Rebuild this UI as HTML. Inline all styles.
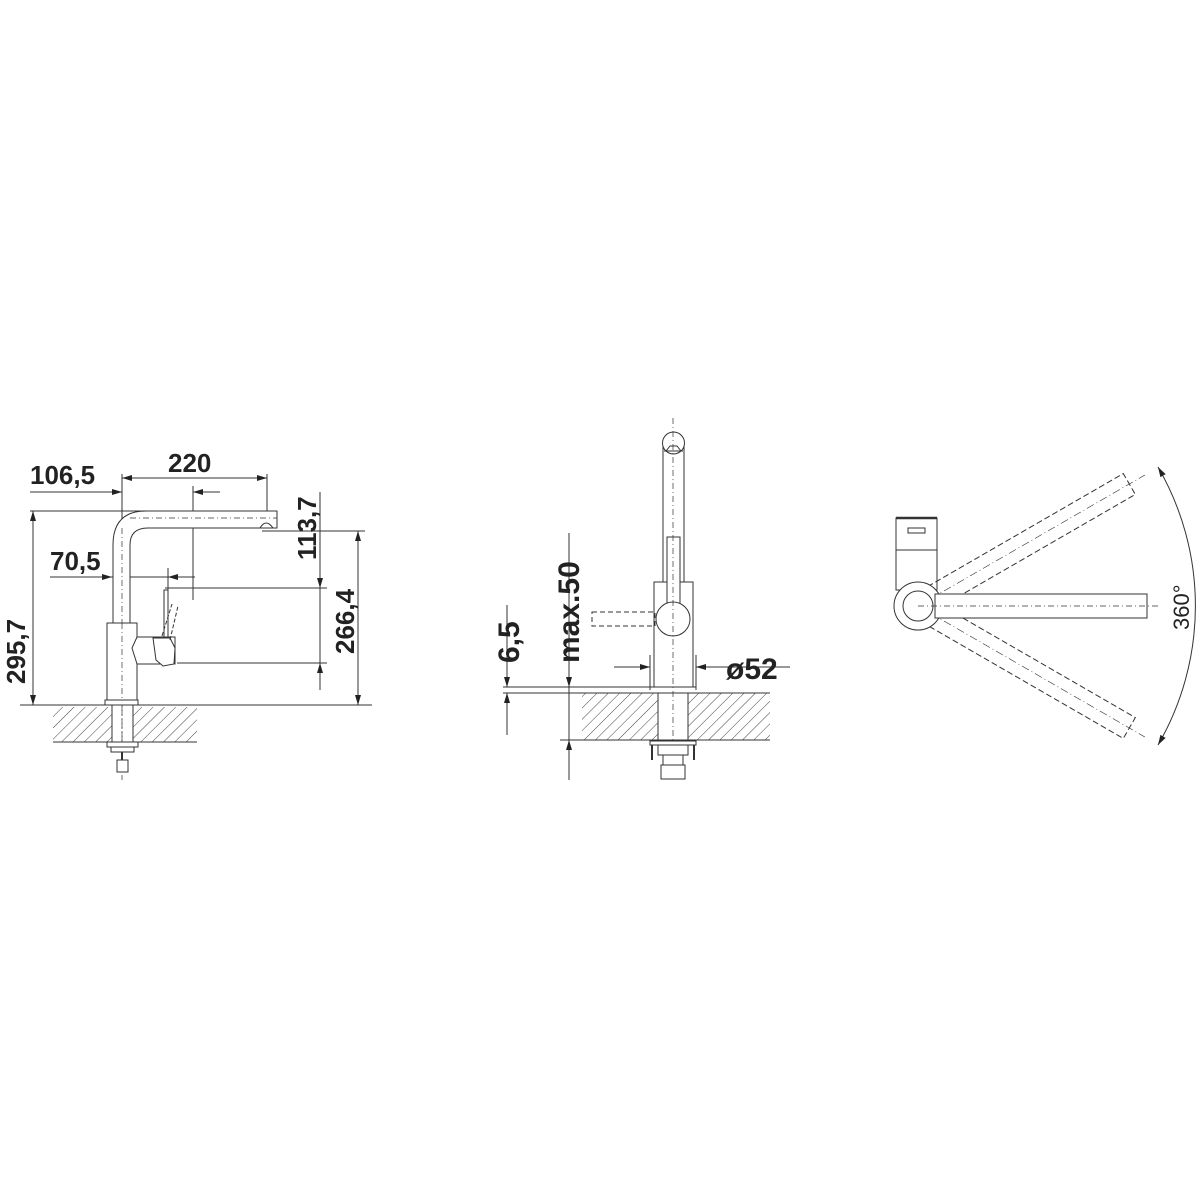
<!DOCTYPE html>
<html><head><meta charset="utf-8"><style>html,body{margin:0;padding:0;background:#fff}svg{display:block}</style></head>
<body>
<svg width="1200" height="1200" viewBox="0 0 1200 1200" xmlns="http://www.w3.org/2000/svg" font-family="Liberation Sans, sans-serif" font-weight="bold" fill="none" stroke="#333" stroke-width="1">
<defs>
<pattern id="h" patternUnits="userSpaceOnUse" width="8" height="8" patternTransform="rotate(45)">
<line x1="0" y1="0" x2="0" y2="8" stroke="#444" stroke-width="1"/>
</pattern>
<marker id="a" viewBox="0 0 10 6" refX="10" refY="3" markerWidth="10" markerHeight="6" orient="auto-start-reverse" markerUnits="userSpaceOnUse">
<path d="M0,0 L10,3 L0,6 z" fill="#222" stroke="none"/>
</marker>
</defs>

<!-- LEFT VIEW -->
<g>
<rect x="53" y="707" width="144" height="35" fill="url(#h)" stroke="none"/>
<line x1="53" y1="742" x2="197" y2="742"/>
<rect x="112" y="705" width="21" height="37" fill="#fff"/>
<line x1="20" y1="705" x2="372" y2="705"/>
<line x1="122" y1="478" x2="267" y2="478" marker-start="url(#a)" marker-end="url(#a)"/>
<line x1="122" y1="474" x2="122" y2="700"/>
<line x1="267" y1="474" x2="267" y2="516"/>
<line x1="30" y1="492" x2="122" y2="492" marker-end="url(#a)"/>
<line x1="220" y1="492" x2="193" y2="492" marker-end="url(#a)"/>
<line x1="193" y1="486" x2="193" y2="600"/>
<line x1="30" y1="511" x2="148" y2="511"/>
<line x1="33" y1="511" x2="33" y2="705" marker-start="url(#a)" marker-end="url(#a)"/>
<line x1="50" y1="577" x2="112" y2="577" marker-end="url(#a)"/>
<line x1="195" y1="577" x2="168" y2="577" marker-end="url(#a)"/>
<line x1="112" y1="577" x2="168" y2="577"/>
<line x1="168" y1="568" x2="168" y2="594"/>
<line x1="320" y1="492" x2="320" y2="588" marker-end="url(#a)"/>
<line x1="320" y1="690" x2="320" y2="663" marker-end="url(#a)"/>
<line x1="320" y1="588" x2="320" y2="663"/>
<line x1="165" y1="588" x2="327" y2="588"/>
<line x1="177" y1="663" x2="327" y2="663"/>
<line x1="262" y1="531" x2="365" y2="531"/>
<line x1="358" y1="531" x2="358" y2="705" marker-start="url(#a)" marker-end="url(#a)"/>
<path d="M113,623 L113,545 Q113,511 146,511 L277,511 L277,528 L148,528 Q130,528 130,545 L130,623" fill="#fff"/>
<line x1="130" y1="518" x2="277" y2="518" stroke-dasharray="6,3,1,3" stroke-width="0.7"/>
<line x1="122" y1="528" x2="122" y2="780" stroke-dasharray="6,3,1,3" stroke-width="0.7"/>
<path d="M260,528 Q266,518 273,528 z" fill="#fff"/>
<rect x="107" y="623" width="30" height="77" fill="#fff"/>
<line x1="122" y1="623" x2="122" y2="700" stroke-dasharray="6,3,1,3" stroke-width="0.7"/>
<rect x="105" y="700" width="33" height="5" fill="#fff"/>
<path d="M137,637 L132,648 L137,664 L175,664 L175,637 z" fill="#fff"/>
<rect x="164" y="590" width="4" height="47" fill="#fff"/>
<path d="M153,638 L170,638 L175,648 L174,664 L163,666 L156,660 z" fill="#fff"/>
<path d="M162,636 L172,604 M170,640 L178,606" stroke-dasharray="4,2"/>
<line x1="122" y1="705" x2="122" y2="742" stroke-dasharray="6,3,1,3" stroke-width="0.7"/>
<rect x="107" y="742" width="31" height="5" fill="#fff"/>
<rect x="111" y="747" width="23" height="5" fill="#fff"/>
<line x1="122" y1="752" x2="122" y2="760" stroke-width="2"/>
<rect x="117" y="760" width="11" height="12" fill="#fff"/>
</g>
<g fill="#222" stroke="none" font-size="26">
<text x="30" y="484">106,5</text>
<text x="168" y="472">220</text>
<text x="50" y="570">70,5</text>
<text transform="translate(316,560) rotate(-90)">113,7</text>
<text transform="translate(354,654) rotate(-90)">266,4</text>
<text transform="translate(25,684) rotate(-90)">295,7</text>
</g>

<!-- MIDDLE VIEW -->
<g>
<rect x="582" y="693" width="188" height="47" fill="url(#h)" stroke="none"/>
<rect x="658" y="693" width="30" height="47" fill="#fff"/>
<line x1="503" y1="687" x2="696" y2="687"/>
<line x1="503" y1="693" x2="770" y2="693"/>
<line x1="560" y1="740" x2="770" y2="740"/>
<line x1="507" y1="605" x2="507" y2="687" marker-end="url(#a)"/>
<line x1="507" y1="735" x2="507" y2="693" marker-end="url(#a)"/>
<line x1="569" y1="533" x2="569" y2="687" marker-end="url(#a)"/>
<line x1="569" y1="780" x2="569" y2="740" marker-end="url(#a)"/>
<line x1="569" y1="687" x2="569" y2="740"/>
<line x1="614" y1="667" x2="650" y2="667" marker-end="url(#a)"/>
<line x1="790" y1="667" x2="696" y2="667" marker-end="url(#a)"/>
<line x1="650" y1="655" x2="650" y2="690"/>
<line x1="696" y1="655" x2="696" y2="690"/>
<rect x="654" y="582" width="39" height="105" fill="#fff"/>
<rect x="663" y="445" width="21" height="137" fill="#fff"/>
<circle cx="673.5" cy="443" r="11" fill="#fff"/>
<path d="M664,451 L683,451 M666,451 L670,446 L677,446 L681,451"/>
<rect x="667" y="537" width="13" height="70" fill="#fff"/>
<rect x="592" y="612" width="63" height="14" stroke-dasharray="5,3"/>
<circle cx="673" cy="619" r="17" fill="#fff"/>
<rect x="658" y="693" width="30" height="47" fill="#fff"/>
<line x1="673" y1="418" x2="673" y2="780" stroke-dasharray="6,3,1,3" stroke-width="0.7"/>
<rect x="650" y="741" width="46" height="4" fill="#fff"/>
<line x1="652" y1="745" x2="652" y2="760" stroke-width="2"/>
<line x1="694" y1="745" x2="694" y2="760" stroke-width="2"/>
<rect x="658" y="745" width="30" height="10" fill="#fff"/>
<rect x="663" y="755" width="20" height="10" fill="#fff"/>
<rect x="661" y="765" width="24" height="14" fill="#fff"/>
</g>
<g fill="#222" stroke="none">
<text x="726" y="679" font-size="30">ø52</text>
<text transform="translate(519,663) rotate(-90)" font-size="30">6,5</text>
<text transform="translate(579,663) rotate(-90)" font-size="30">max.50</text>
</g>

<!-- RIGHT VIEW -->
<g>
<rect x="896" y="518" width="41" height="72" fill="#fff"/>
<line x1="896" y1="518" x2="937" y2="518" stroke-width="2.5"/>
<line x1="896" y1="550" x2="937" y2="550"/>
<rect x="908" y="528" width="17" height="5"/>
<g transform="rotate(-30 918 606)" stroke-dasharray="6,3">
<rect x="918" y="594" width="244" height="24"/>
<line x1="918" y1="606" x2="1180" y2="606" stroke-dasharray="8,3,1,3" stroke-width="0.7"/>
</g>
<g transform="rotate(30 918 606)" stroke-dasharray="6,3">
<rect x="918" y="594" width="244" height="24"/>
<line x1="918" y1="606" x2="1180" y2="606" stroke-dasharray="8,3,1,3" stroke-width="0.7"/>
</g>
<circle cx="918" cy="606" r="24" fill="#fff"/>
<circle cx="918" cy="606" r="15" fill="#fff"/>
<rect x="935" y="594" width="212" height="24" fill="#fff"/>
<line x1="918" y1="606" x2="1160" y2="606" stroke-dasharray="6,3,1,3" stroke-width="0.7"/>
<path d="M1158,467 A277,277 0 0 1 1158,745" marker-start="url(#a)" marker-end="url(#a)"/>
</g>
<g fill="#222" stroke="none">
<text transform="translate(1189,630) rotate(-90)" font-size="22" font-weight="normal">360°</text>
</g>
</svg>
</body></html>
